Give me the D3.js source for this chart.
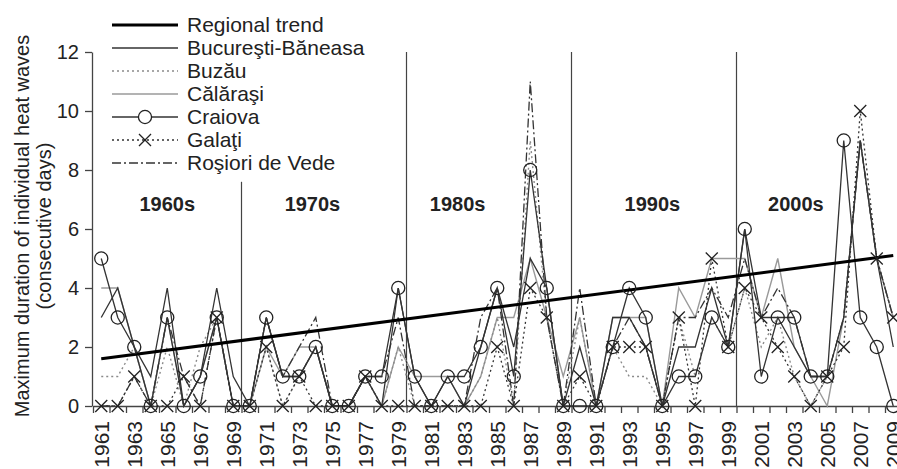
<!DOCTYPE html>
<html>
<head>
<meta charset="utf-8">
<script src="https://cdn.jsdelivr.net/npm/d3@7"></script>
<style>
  body { margin: 0; background: #fff; }
  svg { display: block; font-family: "Liberation Sans", Arial, sans-serif; }
</style>
</head>
<body>
<svg width="897" height="469"></svg>
<script>
// data (days)
const years = d3.range(1961, 2010);
const bucuresti = [3,4,2,1,4,0,1,4,1,0, 3,1,1,2,0,0,1,0,4,1, 0,1,0,2,4,2,5,4,0,2, 0,3,3,2,0,2,2,4,2,6, 3,3,2,1,1,3,9,5,2];
const buzau     = [1,1,2,0,2,0,2,3,0,0, 2,0,1,2,0,0,1,0,2,0, 0,0,0,1,3,0,9,3,0,3, 0,2,1,1,0,3,1,3,2,4, 2,3,1,0,1,3,9,5,3];
const calarasi  = [4,4,2,0,3,0,1,3,0,0, 2,1,2,2,0,0,1,0,2,1, 1,1,0,1,3,3,5,3,1,3, 0,3,3,3,0,4,3,5,5,5, 3,5,2,1,0,3,9,5,3];
const craiova   = [5,3,2,0,3,0,1,3,0,0, 3,1,1,2,0,0,1,1,4,1, 0,1,1,2,4,1,8,4,0,0, 0,2,4,3,0,1,1,3,2,6, 1,3,3,1,1,9,3,2,0];
const galati    = [0,0,1,0,0,1,0,3,0,0, 2,0,1,0,0,0,1,0,0,0, 0,0,0,0,2,0,4,3,0,1, 0,2,2,2,0,3,0,5,2,4, 3,2,1,0,1,2,10,5,3];
const rosiori   = [0,0,1,0,3,1,0,3,0,0, 3,1,2,3,0,0,1,1,3,0, 0,0,0,3,4,0,11,3,0,4, 0,2,3,2,0,3,3,4,3,5, 3,4,3,1,1,3,9,5,3];

const trendYears = [1961, 2009];
const trendValues = [1.6, 5.1];

const yTicks = [0, 2, 4, 6, 8, 10, 12];
const decadeNames = ["1960s", "1970s", "1980s", "1990s", "2000s"];
const decadeLabelYears = [1965, 1973.8, 1982.6, 1994.4, 2003.1];
const decadeStarts = [1970, 1980, 1990, 2000];

const svg = d3.select("svg");
const x = d3.scaleLinear().domain([1960.5, 2009.5]).range([93, 901.5]);
const y = d3.scaleLinear().domain([0, 12]).range([406, 52]);

const ink = "#222";

// series look, drawn in this order
const series = [
  { name: "Călăraşi", values: calarasi, color: "#9a9a9a", width: 1.4, dash: null, marker: null },
  { name: "Buzău", values: buzau, color: "#8a8a8a", width: 1.4, dash: "2,3", marker: null },
  { name: "Roşiori de Vede", values: rosiori, color: "#333", width: 1.3, dash: "9,3,2,3", marker: null },
  { name: "Galaţi", values: galati, color: "#333", width: 1.3, dash: "2,3", marker: d3.symbolX },
  { name: "Bucureşti-Băneasa", values: bucuresti, color: "#333", width: 1.3, dash: null, marker: null },
  { name: "Craiova", values: craiova, color: "#333", width: 1.3, dash: null, marker: d3.symbolCircle }
];
const legendOrder = ["Bucureşti-Băneasa", "Buzău", "Călăraşi", "Craiova", "Galaţi", "Roşiori de Vede"];

// decade dividers
svg.append("g")
  .selectAll("line")
  .data(decadeStarts)
  .join("line")
  .attr("x1", d => x(d - 0.5))
  .attr("x2", d => x(d - 0.5))
  .attr("y1", d => d === 1970 ? y(7.6) : y(12))
  .attr("y2", y(0))
  .attr("stroke", "#444")
  .attr("stroke-width", 1.2);

svg.append("g")
  .selectAll("text")
  .data(decadeNames)
  .join("text")
  .attr("x", (d, i) => x(decadeLabelYears[i]))
  .attr("y", y(6.6))
  .attr("text-anchor", "middle")
  .attr("font-size", 20)
  .attr("font-weight", "bold")
  .attr("fill", ink)
  .text(d => d);

// axes
const yAxis = svg.append("g")
  .attr("transform", `translate(${x(1960.5) - 1},0)`)
  .call(d3.axisLeft(y).tickValues(yTicks).tickSize(7).tickSizeOuter(0).tickPadding(6));
yAxis.selectAll("text").attr("font-size", 20).attr("fill", ink).attr("font-family", null);
yAxis.selectAll("line,path").attr("stroke", "#444").attr("stroke-width", 1.3);

const xAxis = svg.append("g")
  .attr("transform", `translate(0,${y(0)})`)
  .call(d3.axisBottom(x).tickValues(d3.range(1960.5, 2010, 1)).tickFormat("").tickSize(7).tickSizeOuter(0));
xAxis.selectAll("line,path").attr("stroke", "#444").attr("stroke-width", 1.3);

svg.append("g")
  .selectAll("text")
  .data(years.filter(d => d % 2 === 1))
  .join("text")
  .attr("transform", d => `translate(${x(d)},${y(0) + 15}) rotate(-90)`)
  .attr("dy", "0.36em")
  .attr("text-anchor", "end")
  .attr("font-size", 21)
  .attr("fill", ink)
  .text(d => d);

// y title
const title = svg.append("text")
  .attr("transform", `translate(22,${y(6) - 3}) rotate(-90)`)
  .attr("text-anchor", "middle")
  .attr("font-size", 20)
  .attr("fill", ink);
title.append("tspan").attr("x", 0).attr("dy", "0.35em").text("Maximum duration of individual heat waves");
title.append("tspan").attr("x", 0).attr("dy", "1.1em").text("(consecutive days)");

// lines
const line = d3.line()
  .x((d, i) => x(years[i]))
  .y(d => y(d));

svg.append("g")
  .selectAll("path")
  .data(series)
  .join("path")
  .attr("d", d => line(d.values))
  .attr("fill", "none")
  .attr("stroke", d => d.color)
  .attr("stroke-width", d => d.width)
  .attr("stroke-dasharray", d => d.dash);

// regional trend
svg.append("path")
  .attr("d", d3.line().x(d => x(d[0])).y(d => y(d[1]))(trendYears.map((t, i) => [t, trendValues[i]])))
  .attr("stroke", "#000")
  .attr("stroke-width", 3)
  .attr("fill", "none");

// markers
const symbolSize = s => s === d3.symbolCircle ? 135 : 96;
series.filter(s => s.marker).forEach(s => {
  svg.append("g")
    .selectAll("path")
    .data(s.values)
    .join("path")
    .attr("transform", (d, i) => `translate(${x(years[i])},${y(d)})`)
    .attr("d", d3.symbol(s.marker, symbolSize(s.marker)))
    .attr("fill", "none")
    .attr("stroke", "#222")
    .attr("stroke-width", 1.3);
});

// legend
const legend = svg.append("g").attr("transform", "translate(112,25)");
const rows = [{ name: "Regional trend", color: "#000", width: 3, dash: null, marker: null }]
  .concat(legendOrder.map(n => series.find(s => s.name === n)));

const row = legend.selectAll("g")
  .data(rows)
  .join("g")
  .attr("transform", (d, i) => `translate(0,${i * 23})`);

row.append("line")
  .attr("x1", 0).attr("x2", 66)
  .attr("stroke", d => d.color)
  .attr("stroke-width", d => d.width)
  .attr("stroke-dasharray", d => d.dash);

row.filter(d => d.marker)
  .append("path")
  .attr("transform", "translate(33,0)")
  .attr("d", d => d3.symbol(d.marker, symbolSize(d.marker))())
  .attr("fill", "#fff")
  .attr("stroke", "#222")
  .attr("stroke-width", 1.3);

row.append("text")
  .attr("x", 75)
  .attr("dy", "0.35em")
  .attr("font-size", 21)
  .attr("fill", ink)
  .text(d => d.name);
</script>
</body>
</html>
